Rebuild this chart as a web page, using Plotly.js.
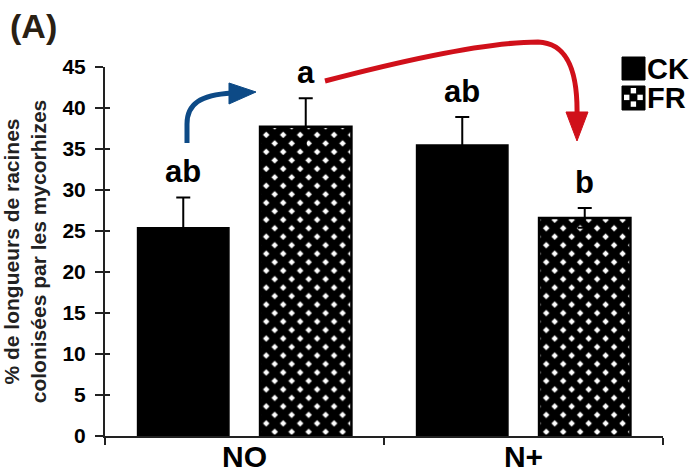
<!DOCTYPE html>
<html>
<head>
<meta charset="utf-8">
<script src="https://cdn.plot.ly/plotly-3.0.1.min.js"></script>
<style>
html,body{margin:0;padding:0;background:#fff;}
#chart{width:696px;height:474px;}
</style>
</head>
<body>
<div id="chart"></div>
<script>
// ---- data ----
const categories = ['NO', 'N+'];
const ckMeans = [25.4, 35.5];
const ckErr = [3.7, 3.4];
const frMeans = [37.7, 26.6];
const frErr = [3.5, 1.2];
const ckLetters = ['ab', 'ab'];
const frLetters = ['a', 'b'];
const yTicks = [0, 5, 10, 15, 20, 25, 30, 35, 40, 45];
const seriesNames = ['CK', 'FR'];
const yTitle = '% de longueurs de racines<br>colonisées par les mycorhizes';

// ---- styling ----
const FONT = '"Liberation Sans", Arial, Helvetica, sans-serif';
const L = 105, R = 663, T = 67, B = 436;
const px = x => (x - L) / (R - L);
const py = y => (B - y) / (B - T);
function pathFrom(cmds) {
  return cmds.map(c => c[0] + c.slice(1).reduce((s, v, i) => s + (i ? (i % 2 ? ',' : ' ') : '') + (i % 2 ? py(v) : px(v)).toFixed(5), '')).join(' ');
}

const BARGAP = 0.122, GROUPGAP = 0.254;
const slot = (1 - BARGAP) / 2;
const offs = [-slot / 2, slot / 2];

const checker = {shape: 'x', bgcolor: '#fff', fgcolor: '#000', fillmode: 'replace', size: 12, solidity: 0.85};

const traces = [
  {
    type: 'bar', name: seriesNames[0], x: categories, y: ckMeans,
    marker: {color: '#000', line: {color: '#000', width: 1.5}},
    error_y: {type: 'data', array: ckErr, visible: true, color: '#000', thickness: 2, width: 7},
    hoverinfo: 'skip'
  },
  {
    type: 'bar', name: seriesNames[1], x: categories, y: frMeans,
    marker: {color: '#000', line: {color: '#000', width: 2.5}, pattern: checker},
    error_y: {type: 'data', array: frErr, visible: true, color: '#000', thickness: 2, width: 7},
    hoverinfo: 'skip'
  },
  {type: 'scatter', x: [], y: [], yaxis: 'y2', hoverinfo: 'skip', showlegend: false}
];

const letterFont = {family: FONT, size: 31, color: '#000', weight: 'bold'};
const annotations = [];
categories.forEach((c, i) => {
  annotations.push({x: i + offs[0], y: ckMeans[i] + ckErr[i], xref: 'x', yref: 'y', text: ckLetters[i],
    showarrow: false, yanchor: 'bottom', yshift: 6, font: letterFont});
  annotations.push({x: i + offs[1], y: frMeans[i] + frErr[i], xref: 'x', yref: 'y', text: frLetters[i],
    showarrow: false, yanchor: 'bottom', yshift: 6, font: letterFont});
});
annotations.push({xref: 'paper', yref: 'paper', x: px(8), y: py(5), xanchor: 'left', yanchor: 'top', text: '(A)',
  showarrow: false, font: {family: FONT, size: 34, color: '#2a2013', weight: 'bold'}});
annotations.push({xref: 'paper', yref: 'paper', x: px(645), y: py(69), xanchor: 'left', yanchor: 'middle', text: seriesNames[0],
  showarrow: false, font: {family: FONT, size: 29, color: '#000', weight: 'bold'}});
annotations.push({xref: 'paper', yref: 'paper', x: px(645), y: py(98), xanchor: 'left', yanchor: 'middle', text: seriesNames[1],
  showarrow: false, font: {family: FONT, size: 29, color: '#000', weight: 'bold'}});

const shapes = [];
// blue arrow
shapes.push({type: 'path', xref: 'paper', yref: 'paper', line: {color: '#0d4a86', width: 5}, fillcolor: 'rgba(0,0,0,0)',
  path: pathFrom([['M', 187, 143], ['L', 187, 124], ['C', 187, 104, 200, 95, 232, 93]])});
shapes.push({type: 'path', xref: 'paper', yref: 'paper', line: {color: '#0d4a86', width: 1}, fillcolor: '#0d4a86',
  path: pathFrom([['M', 229, 83], ['L', 256, 92], ['L', 229, 104], ['Z']])});
// red arrow
shapes.push({type: 'path', xref: 'paper', yref: 'paper', line: {color: '#d0101a', width: 5}, fillcolor: 'rgba(0,0,0,0)',
  path: pathFrom([['M', 325, 81], ['C', 420, 56, 495, 42, 538, 42], ['C', 566, 43, 578, 68, 577, 116]])});
shapes.push({type: 'path', xref: 'paper', yref: 'paper', line: {color: '#d0101a', width: 1}, fillcolor: '#d0101a',
  path: pathFrom([['M', 566, 112], ['L', 588, 112], ['L', 577, 141], ['Z']])});
// legend icons
shapes.push({type: 'rect', xref: 'paper', yref: 'paper', x0: px(622), x1: px(645), y0: py(80), y1: py(57),
  fillcolor: '#000', line: {color: '#000', width: 1}});
shapes.push({type: 'rect', xref: 'paper', yref: 'paper', x0: px(622), x1: px(645), y0: py(110), y1: py(86),
  fillcolor: '#000', line: {color: '#000', width: 1}});
[[1, 0], [0, 1], [2, 1], [1, 2]].forEach(([cx, cy]) => {
  const x0 = 624 + cx * 6.7, y0 = 88 + cy * 6.7;
  shapes.push({type: 'rect', xref: 'paper', yref: 'paper', x0: px(x0), x1: px(x0 + 5.4), y0: py(y0 + 5.4), y1: py(y0),
    fillcolor: '#fff', line: {width: 0}});
});

const layout = {
  width: 696, height: 474,
  margin: {l: L, r: 696 - R, t: T, b: 474 - B, pad: 0},
  paper_bgcolor: '#fff', plot_bgcolor: '#fff',
  showlegend: false,
  barmode: 'group', bargap: BARGAP, bargroupgap: GROUPGAP,
  xaxis: {
    type: 'category', range: [-0.5, 1.5], fixedrange: true,
    tickson: 'boundaries', ticks: 'outside', ticklen: 7, tickwidth: 2, tickcolor: '#222', ticklabelstandoff: -7,
    showline: true, linewidth: 2, linecolor: '#222', showgrid: false, zeroline: false,
    tickfont: {family: FONT, size: 30, color: '#000', weight: 'bold'}
  },
  yaxis: {
    range: [0, 45], tickvals: yTicks, ticktext: yTicks.map(String),
    ticks: 'outside', ticklen: 8, tickwidth: 2, tickcolor: '#222', ticklabelstandoff: 5,
    showline: true, linewidth: 2, linecolor: '#222', showgrid: false, zeroline: false,
    tickfont: {family: FONT, size: 21, color: '#000', weight: 'bold'},
    title: {text: yTitle, standoff: 14, font: {family: FONT, size: 21, color: '#222', weight: 'bold'}}
  },
  yaxis2: {
    overlaying: 'y', side: 'left', range: [0, 45], tickvals: yTicks,
    ticks: 'inside', ticklen: 5, tickwidth: 2, tickcolor: '#222',
    showticklabels: false, showline: false, showgrid: false, zeroline: false
  },
  annotations: annotations,
  shapes: shapes
};

Plotly.newPlot('chart', traces, layout, {staticPlot: true, displayModeBar: false});
</script>
</body>
</html>
